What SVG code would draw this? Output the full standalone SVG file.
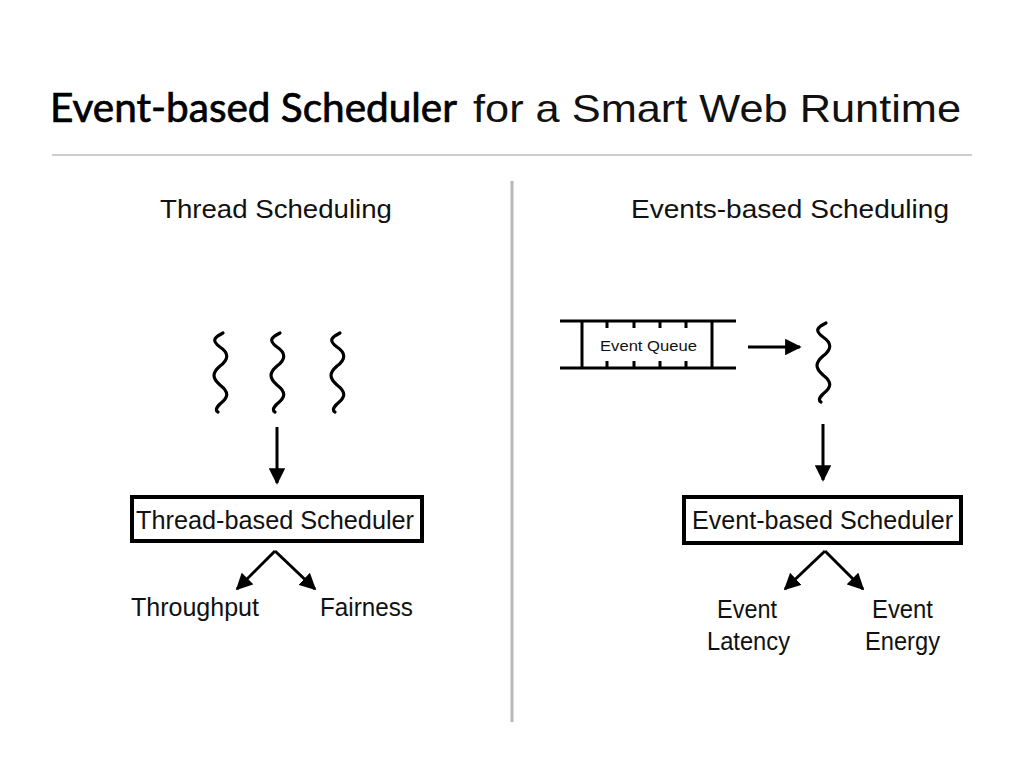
<svg xmlns="http://www.w3.org/2000/svg" width="1024" height="768" viewBox="0 0 1024 768">
<defs>
<style>
.t{font-family:"Liberation Sans",Arial,sans-serif;fill:#111}
.h{font-size:26px}
.lbl{font-size:25px}
.ln{stroke:#000;stroke-width:3;fill:none}
.sq{stroke:#000;stroke-width:3.2;fill:none;stroke-linecap:round}
.box{fill:#fff;stroke:#000;stroke-width:4}
</style>
<marker id="ah" viewBox="0 0 10 10" refX="9" refY="5" markerWidth="5.5" markerHeight="5.5" orient="auto" markerUnits="strokeWidth">
<path d="M0,0 L10,5 L0,10 z" fill="#000"/>
</marker>
<path id="sqg" d="M3,0 C-7,5 -8,8 0,14 C9,20 9,26 0,33 C-8,40 -8,45 0,52 C9,59 9,64 0,71 C-5,76 -4,78 -2,79"/>
</defs>
<rect width="1024" height="768" fill="#fff"/>

<g id="title">
<text x="50" y="122" font-family="Lato,'Open Sans',sans-serif" font-weight="400" font-size="40" fill="#000" stroke="#000" stroke-width="0.7" textLength="407" lengthAdjust="spacingAndGlyphs">Event-based Scheduler</text>
<text x="473" y="122" class="t" font-size="39" fill="#000" textLength="488" lengthAdjust="spacingAndGlyphs">for a Smart Web Runtime</text>
<line x1="52" y1="155" x2="972" y2="155" stroke="#cccccc" stroke-width="2"/>
<line x1="512" y1="181" x2="512" y2="722" stroke="#b8b8b8" stroke-width="3"/>
</g>

<g id="left-heading"><text x="160" y="218" class="t h" textLength="232" lengthAdjust="spacingAndGlyphs">Thread Scheduling</text></g>
<g id="right-heading"><text x="631" y="218" class="t h" textLength="318" lengthAdjust="spacingAndGlyphs">Events-based Scheduling</text></g>

<g id="threads">
<use href="#sqg" class="sq" transform="translate(220,333)"/>
<use href="#sqg" class="sq" transform="translate(277,333)"/>
<use href="#sqg" class="sq" transform="translate(337,333)"/>
</g>

<g id="thread-scheduler">
<rect x="132" y="497" width="290" height="44" class="box"/>
<text x="136" y="529" class="t lbl" textLength="278" lengthAdjust="spacingAndGlyphs">Thread-based Scheduler</text>
</g>
<g id="throughput"><text x="131" y="616" class="t lbl" textLength="128" lengthAdjust="spacingAndGlyphs">Throughput</text></g>
<g id="fairness"><text x="320" y="616" class="t lbl" textLength="93" lengthAdjust="spacingAndGlyphs">Fairness</text></g>

<g id="event-queue">
<line x1="560" y1="321" x2="736" y2="321" class="ln"/>
<line x1="560" y1="368" x2="736" y2="368" class="ln"/>
<line x1="582" y1="321" x2="582" y2="368" class="ln"/>
<line x1="712" y1="321" x2="712" y2="368" class="ln"/>
<path d="M607,321 V328 M634,321 V328 M660,321 V328 M686,321 V328 M607,361 V368 M634,361 V368 M660,361 V368 M686,361 V368" class="ln"/>
<text x="600" y="351" class="t" font-size="15" textLength="97" lengthAdjust="spacingAndGlyphs">Event Queue</text>
</g>

<g id="event-thread">
<use href="#sqg" class="sq" transform="translate(823,323)"/>
</g>

<g id="event-scheduler">
<rect x="684" y="497" width="277" height="46" class="box"/>
<text x="692" y="529" class="t lbl" textLength="261" lengthAdjust="spacingAndGlyphs">Event-based Scheduler</text>
</g>
<g id="event-latency"><text x="717" y="618" class="t lbl" textLength="60" lengthAdjust="spacingAndGlyphs">Event</text><text x="707" y="650" class="t lbl" textLength="83" lengthAdjust="spacingAndGlyphs">Latency</text></g>
<g id="event-energy"><text x="872" y="618" class="t lbl" textLength="61" lengthAdjust="spacingAndGlyphs">Event</text><text x="865" y="650" class="t lbl" textLength="75" lengthAdjust="spacingAndGlyphs">Energy</text></g>

<g id="connectors" class="ln">
<line x1="277" y1="427" x2="277" y2="483" marker-end="url(#ah)"/>
<path d="M275,551 L237,589" marker-end="url(#ah)"/>
<path d="M275,551 L315,589" marker-end="url(#ah)"/>
<line x1="748" y1="347" x2="800" y2="347" marker-end="url(#ah)"/>
<line x1="823" y1="424" x2="823" y2="480" marker-end="url(#ah)"/>
<path d="M825,551 L785,589" marker-end="url(#ah)"/>
<path d="M825,551 L863,589" marker-end="url(#ah)"/>
</g>
</svg>
